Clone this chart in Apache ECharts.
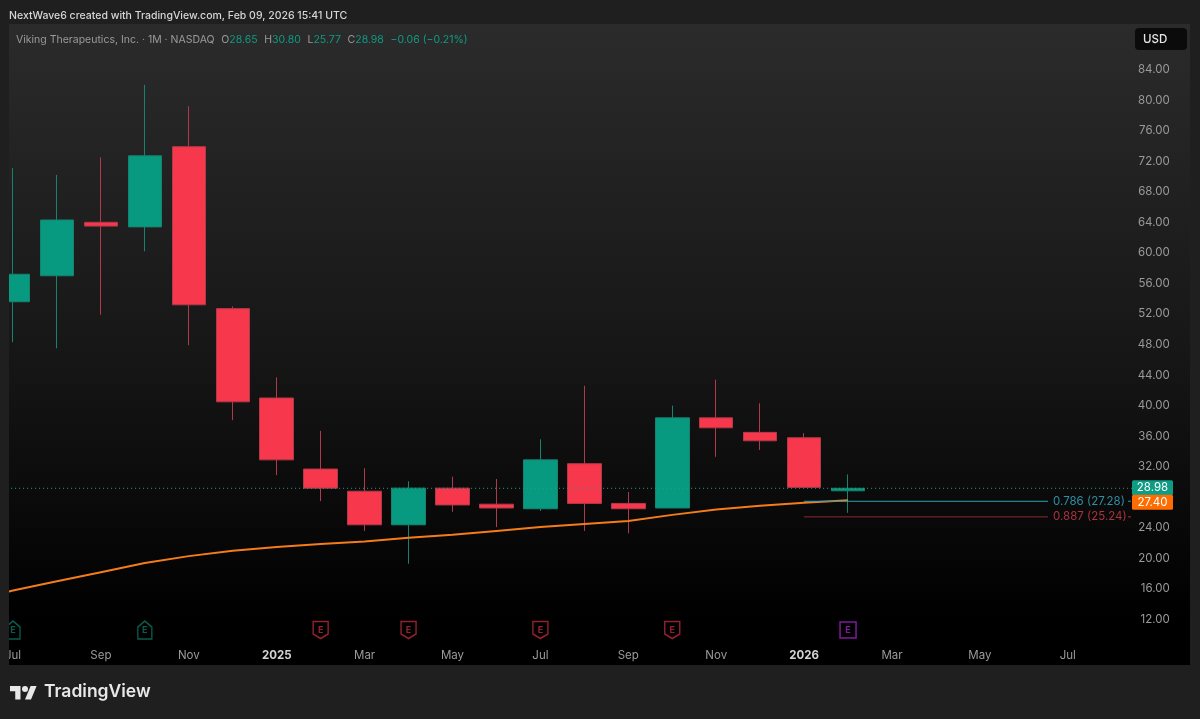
<!DOCTYPE html>
<html><head><meta charset="utf-8">
<style>html,body{margin:0;padding:0;background:#1f1f1f}#c{width:1200px;height:719px}</style>
<script src="https://cdn.jsdelivr.net/npm/echarts@6/dist/echarts.min.js"></script>
</head><body><div id="c"></div>
<script>
const categories=['Jun','Jul','Aug','Sep','Oct','Nov','Dec','2025','Feb','Mar','Apr','May','Jun','Jul','Aug','Sep','Oct','Nov','Dec','2026','Feb','Mar','Apr','May','Jun','Jul','Aug','Sep'];
// open, close, low, high
const opens =[null,53.4,56.8,63.8,63.2,73.7,52.5,40.8,31.5,28.6,24.2,29.0,26.9,26.3,32.2,27.0,26.4,38.2,36.3,35.6,28.65];
const closes=[null,57.0,64.1,63.3,72.5,53.0,40.3,32.7,29.0,24.2,29.0,26.8,26.4,32.7,27.0,26.3,38.2,36.9,35.2,29.1,28.98];
const lows  =[null,48.1,47.3,51.7,60.0,47.7,37.9,30.7,27.3,23.4,19.1,25.9,23.9,26.0,23.4,23.1,26.4,33.1,34.0,29.1,25.77];
const highs =[null,70.9,70.0,72.3,81.8,79.0,52.8,43.5,36.5,31.6,29.9,30.5,30.2,35.4,42.4,28.5,39.8,43.2,40.1,36.2,30.80];
const maValues=[14.2,15.6,16.8,18.0,19.2,20.1,20.8,21.3,21.7,22.0,22.5,22.9,23.4,23.9,24.3,24.7,25.5,26.2,26.7,27.1,27.4];
const fibRatios=['0.786','0.887'];
const fibPrices=[27.28,25.24];
const fibColors=['#27a3b5','#8f2a35'];
const fibLabelColors=['#2f8fa3','#a8333f'];
const fibStartIndex=19, fibSpanBands=5.55;
const lastPrices=[28.98,27.40];
const lastColors=['#0f9c84','#ff6d00'];
const earningsBeat=[1,4];
const earningsMiss=[8,10,13,16];
const earningsNext=[20];
const earningsLevel=10.43;

const UP='#089a81',DOWN='#f7374b',UPW='#17836f',DOWNW='#b03a4a';
const FONT='Inter, "Noto Sans", sans-serif';
const candle=categories.map((c,i)=>i<opens.length&&opens[i]!==null?[opens[i],closes[i],lows[i],highs[i]]:'-');
const bandW=43.95;

function epoint(list){return list.map(i=>[i,earningsLevel]);}
function eSeries(name,list,path,size,col){
 return {name,type:'scatter',data:epoint(list),symbol:path,symbolSize:size,z:6,silent:true,
  itemStyle:{color:'rgba(0,0,0,0)',borderColor:col,borderWidth:1.5},
  label:{show:true,position:'inside',formatter:'E',color:col,fontSize:9,fontWeight:'bold',fontFamily:FONT}};
}
const chart=echarts.init(document.getElementById('c'),null,{renderer:'canvas'});
chart.setOption({
 animation:false,backgroundColor:'#1f1f1f',
 grid:{left:13-bandW*1.5,width:bandW*28,top:618-76*7.639,height:80*7.639,containLabel:false,outerBoundsMode:'none'},
 xAxis:{type:'category',data:categories,boundaryGap:true,axisLine:{show:false},axisTick:{show:false},splitLine:{show:false},
  axisLabel:{margin:1,hideOverlap:false,interval:i=>i%2===1&&i<=25,
   color:'#9a9a9a',fontSize:11.5,fontFamily:FONT,
   formatter:v=>/^20/.test(v)?'{y|'+v+'}':v,
   rich:{y:{color:'#d4d4d4',fontWeight:'bold',fontSize:11.5,fontFamily:FONT}}}},
 yAxis:{type:'value',position:'right',min:8,max:88,interval:4,scale:true,axisLine:{show:false},axisTick:{show:false},splitLine:{show:false},
  axisLabel:{inside:true,margin:8,color:'#9a9a9a',fontSize:11.5,fontFamily:FONT,showMinLabel:false,showMaxLabel:false,
   formatter:v=>'{p|'+v.toFixed(2)+'}',
   rich:{p:{color:'#9a9a9a',fontSize:11.5,fontFamily:FONT,padding:[3,0,0,0]}}}},
 graphic:[
  {type:'rect',z:-10,silent:true,shape:{x:9,y:24,width:1181,height:641},
   style:{fill:new echarts.graphic.LinearGradient(0,0,0,1,[{offset:0,color:'#2b2b2b'},{offset:.5,color:'#171717'},{offset:.75,color:'#0a0a0a'},{offset:.93,color:'#000'},{offset:1,color:'#000'}])}},
  {type:'rect',z:100,silent:true,shape:{x:0,y:24,width:9,height:641},style:{fill:'#1f1f1f'}},
  {type:'rect',z:100,silent:true,shape:{x:1135,y:28,width:52,height:22,r:4},style:{fill:'#0b0b0b'}},
  {type:'text',z:101,silent:true,style:{text:'USD',x:1143,y:34,fill:'#e6e6e6',font:'500 11.5px '+FONT}},
  {type:'text',z:101,silent:true,style:{text:'NextWave6 created with TradingView.com, Feb 09, 2026 15:41 UTC',x:9,y:10,fill:'#d6d6d6',font:'500 10.5px '+FONT}},
  {type:'text',z:101,silent:true,style:{x:16,y:34,
    text:'{n|Viking Therapeutics, Inc. · 1M · NASDAQ}  {n|O}{g|28.65}  {n|H}{g|30.80}  {n|L}{g|25.77}  {n|C}{g|28.98}  {g|−0.06 (−0.21%)}',
    rich:{n:{fill:'#9a9a9a',font:'10.5px '+FONT},g:{fill:'#0f9c84',font:'10.5px '+FONT}}}},
  {type:'group',z:101,x:10,y:683,scaleX:.75,scaleY:.75,silent:true,children:[
    {type:'polygon',z:101,shape:{points:[[0,4],[14,4],[14,22],[7,22],[7,11],[0,11]]},style:{fill:'#e8e8e8'}},
    {type:'polygon',z:101,shape:{points:[[20,22],[27.5,4],[35.5,4],[28,22]]},style:{fill:'#e8e8e8'}},
    {type:'circle',z:101,shape:{cx:20,cy:8,r:4},style:{fill:'#e8e8e8'}}]},
  {type:'text',z:101,silent:true,style:{text:'TradingView',x:44,y:683,fill:'#e8e8e8',font:'600 17.5px '+FONT}}
 ],
 series:[
  {name:'VKTX',type:'candlestick',data:candle,barWidth:34,z:2,silent:true,
   itemStyle:{color:UP,color0:DOWN,borderColor:UPW,borderColor0:DOWNW,borderWidth:1}},
  {name:'MA',type:'line',data:maValues,showSymbol:false,z:3,silent:true,smooth:false,
   lineStyle:{color:'#f57c1a',width:2}},
  {name:'Fib',type:'custom',z:4,silent:true,data:fibPrices.map(p=>[fibStartIndex,p]),encode:{x:0,y:1},
   renderItem(params,api){
    const i=params.dataIndex,a=api.coord([fibStartIndex,api.value(1)]);
    const xEnd=a[0]+fibSpanBands*api.size([1,0])[0];
    return {type:'group',children:[
     {type:'line',shape:{x1:a[0],y1:a[1],x2:xEnd,y2:a[1]},style:{stroke:fibColors[i],lineWidth:1}},
     {type:'text',style:{text:fibRatios[i]+' ('+fibPrices[i].toFixed(2)+')',x:xEnd+5,y:a[1],fill:fibLabelColors[i],font:'11.5px '+FONT,textVerticalAlign:'middle'}},
     {type:'line',shape:{x1:xEnd+80,y1:a[1],x2:xEnd+83,y2:a[1]},style:{stroke:fibLabelColors[i],lineWidth:1}}
    ]};
   }},
  {name:'Last',type:'custom',z:5,silent:true,data:lastPrices.map(p=>[fibStartIndex,p]),encode:{x:0,y:1},
   renderItem(params,api){
    const i=params.dataIndex,y=api.coord([0,api.value(1)])[1],cs=params.coordSys;
    const kids=[];
    const boxY=i===0?y-8:y-5.5;
    if(i===0)kids.push({type:'line',shape:{x1:cs.x,y1:y,x2:1132,y2:y},style:{stroke:'#2f9d8b',lineWidth:1,lineDash:[1,3]}});
    kids.push({type:'rect',shape:{x:1132,y:boxY,width:41,height:15,r:1.5},style:{fill:lastColors[i]}});
    kids.push({type:'text',style:{text:lastPrices[i].toFixed(2),x:1152.5,y:boxY+7.5,fill:'#fff',font:'11.5px '+FONT,textAlign:'center',textVerticalAlign:'middle'}});
    return {type:'group',children:kids};
   }},
  eSeries('EarnBeat',earningsBeat,'path://M0 6L7 0L14 6L14 18L0 18Z',[14,18],'#0d7263'),
  eSeries('EarnMiss',earningsMiss,'path://M0 0L14 0L14 12.5L7 17L0 12.5Z',[15,17],'#b52a37'),
  eSeries('EarnNext',earningsNext,'path://M0 0L14 0L14 14L0 14Z',[16,16],'#a020c0')
 ]
});
</script></body></html>
